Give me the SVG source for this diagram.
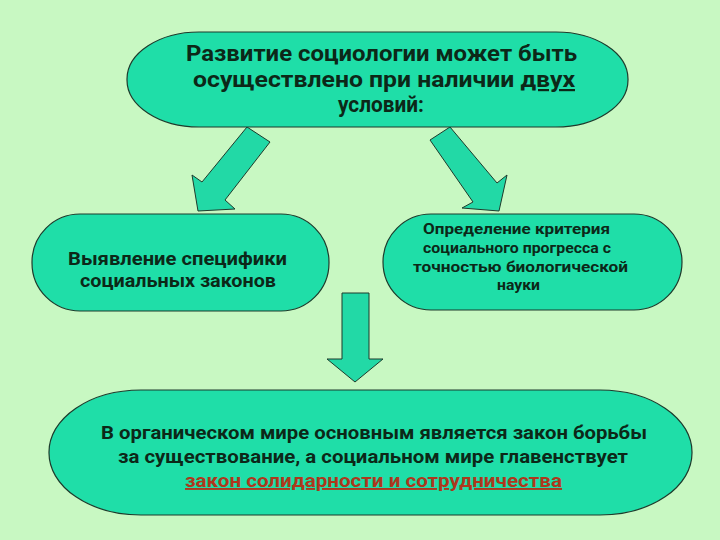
<svg xmlns="http://www.w3.org/2000/svg" width="720" height="540" viewBox="0 0 720 540">
<style>
.box{fill:#1fdea8;stroke:#1d3b2c;stroke-width:1.2}
.arr{fill:#22d9a6;stroke:#1d3b2c;stroke-width:1}
.t{font-family:Roboto,"Liberation Sans","DejaVu Sans",sans-serif;font-weight:700;fill:#0c2818;text-anchor:middle}
.red{fill:#ad381d;text-decoration:underline}
</style>
<rect width="720" height="540" fill="#c8f8c2"/>
<g id="connectors">
<polygon class="arr" points="247,127 270,142 225,200 235,209 198,211 192,175 202,182"/>
<polygon class="arr" points="450,127 497,183 507,175 499,211 462,208 473,202 430,140"/>
<polygon class="arr" points="342,293 369,293 369,359 383,359 355,382 327,359 342,359"/>
</g>
<g id="top">
<rect class="box" x="127" y="32" width="501" height="95" rx="72" ry="47"/>
<text class="t" font-size="22" x="381.5" y="61" textLength="391" lengthAdjust="spacingAndGlyphs">Развитие социологии может быть</text>
<text class="t" font-size="22" x="384" y="87" textLength="382" lengthAdjust="spacingAndGlyphs">осуществлено при наличии <tspan text-decoration="underline">двух</tspan></text>
<text class="t" font-size="22" x="381" y="112" textLength="86" lengthAdjust="spacingAndGlyphs">условий:</text>
</g>
<g id="left">
<rect class="box" x="32" y="214" width="297" height="97" rx="48" ry="48"/>
<text class="t" font-size="18" x="177.5" y="265" textLength="219" lengthAdjust="spacingAndGlyphs">Выявление специфики</text>
<text class="t" font-size="18" x="178" y="287" textLength="196" lengthAdjust="spacingAndGlyphs">социальных законов</text>
</g>
<g id="right">
<rect class="box" x="383" y="214" width="299" height="96" rx="48" ry="48"/>
<text class="t" font-size="15" x="516.5" y="234" textLength="187" lengthAdjust="spacingAndGlyphs">Определение критерия</text>
<text class="t" font-size="15" x="517" y="253" textLength="188" lengthAdjust="spacingAndGlyphs">социального прогресса с</text>
<text class="t" font-size="15" x="520.5" y="272" textLength="215" lengthAdjust="spacingAndGlyphs">точностью биологической</text>
<text class="t" font-size="15" x="518.5" y="290" textLength="43" lengthAdjust="spacingAndGlyphs">науки</text>
</g>
<g id="bottom">
<rect class="box" x="49" y="390" width="643" height="125" rx="92" ry="62"/>
<text class="t" font-size="19" x="374" y="439" textLength="546" lengthAdjust="spacingAndGlyphs">В органическом мире основным является закон борьбы</text>
<text class="t" font-size="19" x="373" y="463" textLength="510" lengthAdjust="spacingAndGlyphs">за существование, а социальном мире главенствует</text>
<text class="t red" font-size="19" x="373.5" y="487" textLength="377" lengthAdjust="spacingAndGlyphs">закон солидарности и сотрудничества</text>
</g>
</svg>
